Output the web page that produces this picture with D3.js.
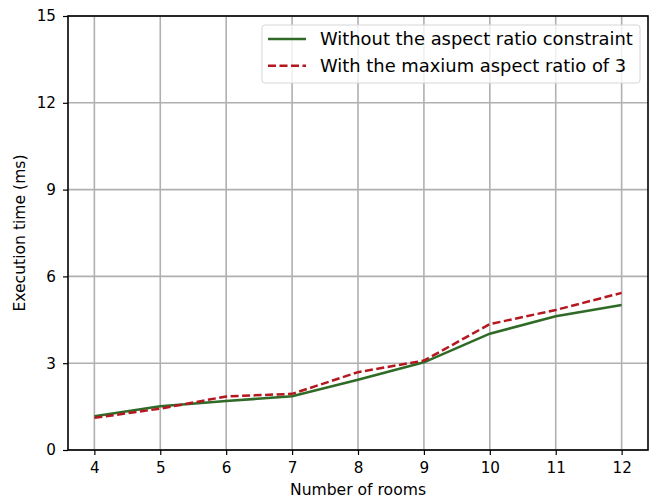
<!DOCTYPE html>
<html lang="en">
<head>
  <meta charset="UTF-8">
  <title></title>
  <script src="https://d3js.org/d3.v7.min.js"></script>
  <style>
    body { margin: 0; background: #fff; }
    text { font-family: "DejaVu Sans", sans-serif; }
  </style>
</head>
<body>
  <svg width="656" height="502"></svg>
  <script>
    const rooms = [4, 5, 6, 7, 8, 9, 10, 11, 12];
    const withoutConstraint = [1.17, 1.51, 1.69, 1.86, 2.43, 3.03, 4.02, 4.62, 5.01];
    const maxRatio3 = [1.11, 1.43, 1.85, 1.94, 2.69, 3.09, 4.35, 4.84, 5.43];
    const yTicks = [0, 3, 6, 9, 12, 15];
    const seriesNames = ["Without the aspect ratio constraint", "With the maxium aspect ratio of 3"];

    const svg = d3.select("svg");
    const margin = {top: 16, right: 8, bottom: 52, left: 68};
    const width = 656 - margin.left - margin.right;
    const height = 502 - margin.top - margin.bottom;
    const g = svg.append("g").attr("transform", `translate(${margin.left},${margin.top})`);

    const x = d3.scaleLinear().domain([3.6, 12.4]).range([0, width]);
    const y = d3.scaleLinear().domain([0, 15]).range([height, 0]);

    // grid
    g.append("g").selectAll("line").data(rooms).join("line")
      .attr("x1", d => x(d)).attr("x2", d => x(d))
      .attr("y1", 0).attr("y2", height)
      .attr("stroke", "#b0b0b0").attr("stroke-width", 1.6);
    g.append("g").selectAll("line").data(yTicks).join("line")
      .attr("y1", d => y(d)).attr("y2", d => y(d))
      .attr("x1", 0).attr("x2", width)
      .attr("stroke", "#b0b0b0").attr("stroke-width", 1.6);

    // lines
    const line = d3.line().x((d, i) => x(rooms[i])).y(d => y(d));
    g.append("path").datum(withoutConstraint)
      .attr("fill", "none").attr("stroke", "#2f6a27").attr("stroke-width", 2.5)
      .attr("d", line);
    g.append("path").datum(maxRatio3)
      .attr("fill", "none").attr("stroke", "#b5171f").attr("stroke-width", 2.5)
      .attr("stroke-dasharray", "8,3.5")
      .attr("d", line);

    // frame
    g.append("rect").attr("width", width).attr("height", height)
      .attr("fill", "none").attr("stroke", "#000").attr("stroke-width", 1.6);

    // axes
    const xAxis = g.append("g").attr("transform", `translate(0,${height})`)
      .call(d3.axisBottom(x).tickValues(rooms).tickSize(5).tickPadding(7).tickFormat(d3.format("d")));
    const yAxis = g.append("g")
      .call(d3.axisLeft(y).tickValues(yTicks).tickSize(5).tickPadding(7));
    [xAxis, yAxis].forEach(a => {
      a.select(".domain").remove();
      a.selectAll(".tick line").attr("stroke", "#000").attr("stroke-width", 1.2);
      a.selectAll(".tick text").attr("font-size", 15.2).attr("fill", "#000")
        .attr("font-family", "DejaVu Sans, sans-serif");
    });

    // axis labels
    svg.append("text")
      .attr("x", margin.left + width / 2).attr("y", 495)
      .attr("text-anchor", "middle").attr("font-size", 15.6)
      .text("Number of rooms");
    svg.append("text")
      .attr("transform", `translate(25,${margin.top + height / 2}) rotate(-90)`)
      .attr("text-anchor", "middle").attr("font-size", 15.6)
      .text("Execution time (ms)");

    // legend
    const leg = g.append("g").attr("transform", `translate(${262 - margin.left},${25 - margin.top})`);
    leg.append("rect").attr("width", 378).attr("height", 58).attr("rx", 3)
      .attr("fill", "rgba(255,255,255,0.8)").attr("stroke", "#d6d6d6").attr("stroke-width", 1);
    const legStyles = [
      {stroke: "#2f6a27", dash: null},
      {stroke: "#b5171f", dash: "8,3.5"}
    ];
    seriesNames.forEach((name, i) => {
      const yy = 14 + i * 26.7;
      leg.append("line").attr("x1", 6).attr("x2", 44).attr("y1", yy).attr("y2", yy)
        .attr("stroke", legStyles[i].stroke).attr("stroke-width", 2.5)
        .attr("stroke-dasharray", legStyles[i].dash);
      leg.append("text").attr("x", 58).attr("y", yy).attr("dy", "0.35em")
        .attr("font-size", 17.9).text(name);
    });
  </script>
</body>
</html>
